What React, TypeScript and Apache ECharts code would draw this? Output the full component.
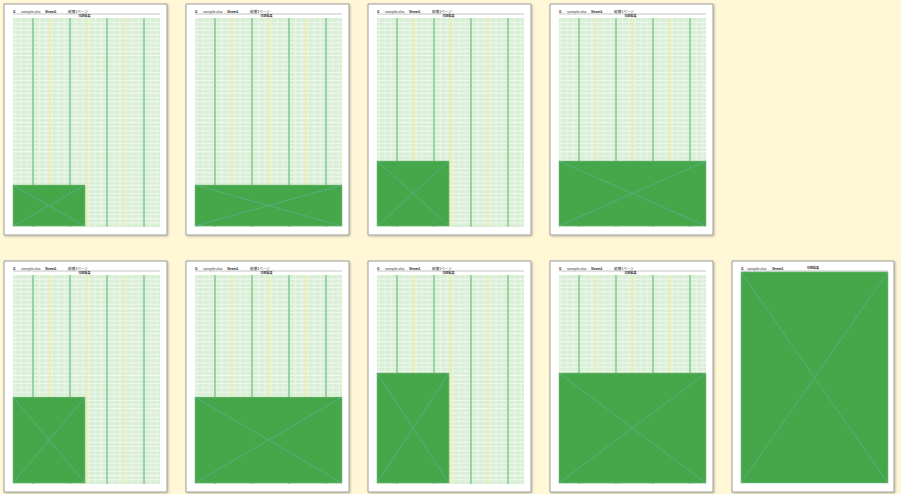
import React, { useEffect, useRef } from "react";
import * as echarts from "echarts";

// ---- data ----
const pageNames = ["1", "2", "3", "4", "5", "6", "7", "8", "9"];
// share of the printable sheet width / height taken by the picture (%)
const imageWidthPct = [49, 100, 49, 100, 49, 100, 49, 100, 100];
const imageHeightPct = [19.6, 19.6, 31.1, 31.1, 41.1, 41.1, 52.6, 52.6, 101];
// whether the spreadsheet grid is printed on the page
const showSheet = [1, 1, 1, 1, 1, 1, 1, 1, 0];
// header texts
const headerMark = "G";
const headerFile = "sample.xlsx";
const headerSheet = "Sheet1";
const headerFit = "縦横1ページ";
const headerTitle = "印刷結果";

const BG = "#fff7d5";
const GREEN = "#45a64a";

export default function App() {
  const ref = useRef<HTMLDivElement>(null);
  useEffect(() => {
    if (!ref.current) return;
    const chart = echarts.init(ref.current, undefined, { renderer: "svg" });
    const data = pageNames.map((n, i) => [i, imageWidthPct[i], imageHeightPct[i], showSheet[i]]);

    const renderItem = (params: any, api: any) => {
      const idx = api.value(0);
      const wPct = api.value(1);
      const hPct = api.value(2);
      const sheet = api.value(3) === 1;
      const row = idx < 4 ? 0 : 1;
      const col = idx < 4 ? idx : idx - 4;
      const px = 4 + col * 182;
      const py = row === 0 ? 4 : 261;
      const c = (x: number, y: number) => api.coord([px + x, py + y]);
      const rect = (x0: number, y0: number, x1: number, y1: number, style: any, extra: any = {}) => {
        const a = c(x0, y0);
        const b = c(x1, y1);
        return { type: "rect", shape: { x: a[0], y: a[1], width: b[0] - a[0], height: b[1] - a[1] }, style, ...extra };
      };
      const line = (x0: number, y0: number, x1: number, y1: number, style: any) => {
        const a = c(x0, y0);
        const b = c(x1, y1);
        return { type: "line", shape: { x1: a[0], y1: a[1], x2: b[0], y2: b[1] }, style };
      };
      const text = (x: number, y: number, t: string, size: number, align: string, weight = "normal") => {
        const a = c(x, y);
        return {
          type: "text",
          x: a[0],
          y: a[1],
          style: {
            text: t,
            fontSize: size,
            fontWeight: weight,
            fill: "#333",
            align,
            verticalAlign: "middle",
            fontFamily: "Noto Sans CJK JP",
          },
        };
      };

      const W = idx === 8 ? 162 : 163;
      const children: any[] = [];
      children.push(
        rect(0, 0, W, 231, { fill: "#ffffff", stroke: "#9c9c9c", lineWidth: 1, shadowBlur: 2, shadowColor: "rgba(0,0,0,0.25)", shadowOffsetX: 1, shadowOffsetY: 1 })
      );
      const gl = 9, gr = 156, gt = 14, gb = 223;
      if (sheet) {
        children.push(rect(gl, gt, gr, gb, { fill: "#d8eed5" }));
        const nRows = 50;
        for (let i = 1; i < nRows; i++) {
          const y = gt + (i * (gb - gt)) / nRows;
          children.push(line(gl, y, gr, y, { stroke: "#f8fcf7", lineWidth: i % 8 === 0 ? 1 : 0.8 }));
        }
        const colW = 37 / 6;
        for (let x = gl + 2; x < gr; x += colW) {
          children.push(line(x, gt, x, gb, { stroke: "#eef8ec", lineWidth: 0.8 }));
        }
        for (let k = 0; k < 4; k++) {
          const x = gl + 20 + k * 37;
          children.push(rect(x - 1, gt, x + 1, gb, { fill: "#98d3a1" }));
        }
        for (let k = 0; k < 3; k++) {
          const x = gl + 37 + k * 37;
          children.push(rect(x - 0.7, gt, x + 0.7, gb, { fill: "#f4eea0" }));
        }
        // white title row
        children.push(rect(gl, 10, gr, gt, { fill: "#ffffff" }));
        children.push(line(gl, 10, gr, 10, { stroke: "#b5b5b5", lineWidth: 0.8 }));
        children.push(text(80.5, 12.2, headerTitle, 3, "center", "bold"));
        children.push(text(9, 7.3, headerMark, 3.5, "left", "bold"));
        children.push(text(17, 7.3, headerFile, 3.6, "left"));
        children.push(text(41, 7.3, headerSheet, 3.4, "left", "bold"));
        children.push(text(64, 7.3, headerFit, 3.6, "left"));
      } else {
        children.push(line(gl, 10, gr, 10, { stroke: "#b5b5b5", lineWidth: 0.8 }));
        children.push(text(9, 7.3, headerMark, 3.5, "left", "bold"));
        children.push(text(15, 7.3, headerFile, 3.6, "left"));
        children.push(text(40, 7.3, headerSheet, 3.4, "left", "bold"));
        children.push(text(81, 7.3, headerTitle, 3, "center", "bold"));
      }
      // picture block
      const bw = ((gr - gl) * wPct) / 100;
      const bh = ((gb - gt) * hPct) / 100;
      const bx0 = gl, bx1 = gl + bw, by1 = 222, by0 = 222 - bh;
      children.push(rect(bx0, by0, bx1, by1, { fill: GREEN, stroke: "#7cc083", lineWidth: 0.6 }));
      children.push(line(bx0, by0, bx1, by1, { stroke: "#5eae8e", lineWidth: 0.8 }));
      children.push(line(bx1, by0, bx0, by1, { stroke: "#5eae8e", lineWidth: 0.8 }));
      return { type: "group", children };
    };

    chart.setOption({
      animation: false,
      backgroundColor: BG,
      grid: { left: 0, right: 0, top: 0, bottom: 0 },
      xAxis: { type: "value", min: 0, max: 901, show: false },
      yAxis: { type: "value", min: 0, max: 494, inverse: true, show: false },
      series: [
        {
          type: "custom",
          renderItem,
          data,
          encode: { x: -1, y: -1 },
          silent: true,
        },
      ],
    });
    return () => chart.dispose();
  }, []);
  return <div ref={ref} style={{ position: "fixed", left: 0, top: 0, width: 901, height: 494 }} />;
}
